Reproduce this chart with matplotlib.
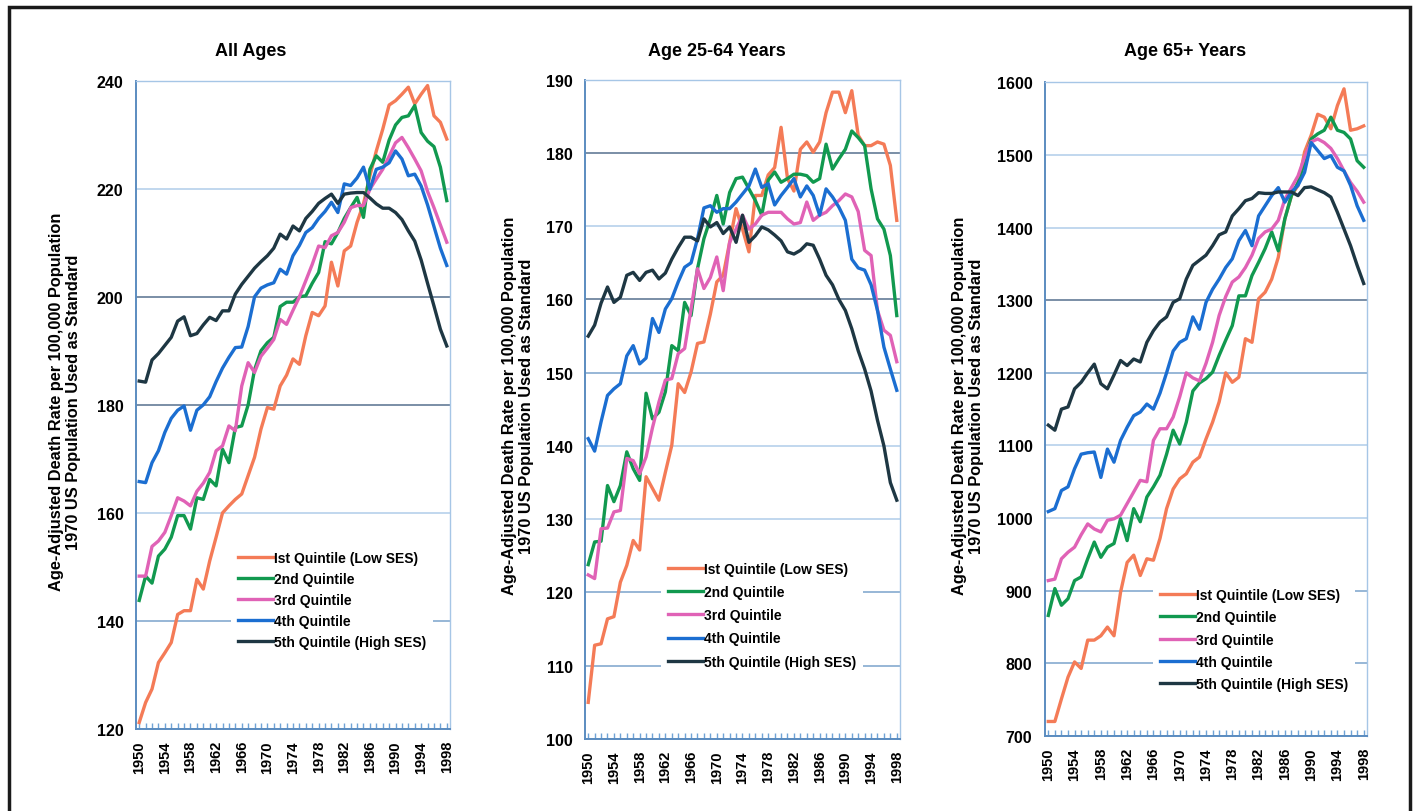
import matplotlib.pyplot as plt
from matplotlib.patches import Rectangle

plt.rcParams['font.family'] = ['Liberation Sans', 'DejaVu Sans']
plt.rcParams['font.weight'] = 'bold'

# data: 1950-1998, age-adjusted death rates by SES quintile
years = list(range(1950, 1999))
x_labels = list(range(1950, 1999, 4))
series_names = ['Ist Quintile (Low SES)', '2nd Quintile', '3rd Quintile',
                '4th Quintile', '5th Quintile (High SES)']
titles = ['All Ages', 'Age 25-64 Years', 'Age 65+ Years']
ylabel = 'Age-Adjusted Death Rate per 100,000 Population\n1970 US Population Used as Standard'

all_q1 = [121.2, 124.9, 127.4, 132.3, 134.1, 136.0, 141.2, 141.9, 141.9, 147.7,
          145.9, 151.1, 155.5, 160.0, 161.3, 162.5, 163.5, 166.9, 170.3, 175.5,
          179.5, 179.2, 183.5, 185.5, 188.5, 187.5, 192.8, 197.1, 196.5, 198.3,
          206.4, 202.0, 208.5, 209.4, 213.8, 217.2, 222.4, 227.0, 231.0, 235.5,
          236.3, 237.5, 238.8, 235.7, 237.5, 239.1, 233.5, 232.3, 229.2]
all_q2 = [143.8, 148.3, 147.0, 152.0, 153.3, 155.5, 159.5, 159.5, 157.0, 162.8,
          162.5, 166.2, 165.0, 171.8, 169.3, 175.8, 176.1, 180.0, 186.5, 190.0,
          191.5, 192.5, 198.2, 199.0, 199.0, 200.0, 200.2, 202.5, 204.5, 210.2,
          209.8, 211.9, 214.5, 216.5, 218.4, 214.7, 223.6, 226.1, 224.9, 229.0,
          231.8, 233.2, 233.5, 235.4, 230.4, 228.8, 227.8, 224.0, 217.8]
all_q3 = [148.3, 148.3, 153.8, 154.8, 156.4, 159.5, 162.8, 162.2, 161.3, 164.0,
          165.5, 167.5, 171.5, 172.4, 176.1, 175.2, 183.5, 187.8, 186.0, 189.0,
          190.5, 192.1, 195.8, 194.9, 197.5, 200.0, 203.0, 206.0, 209.4, 209.1,
          211.3, 211.9, 213.8, 216.5, 216.9, 216.9, 219.9, 221.8, 223.6, 226.0,
          228.5, 229.5, 227.6, 225.5, 223.3, 219.5, 216.5, 213.3, 210.1]
all_q4 = [165.8, 165.6, 169.3, 171.5, 174.9, 177.5, 179.0, 179.8, 175.3, 179.0,
          180.0, 181.5, 184.3, 186.8, 188.8, 190.6, 190.7, 194.5, 200.0, 201.6,
          202.2, 202.6, 205.1, 204.2, 207.6, 209.5, 211.9, 212.8, 214.5, 215.8,
          217.5, 215.6, 220.9, 220.6, 222.0, 224.0, 219.9, 223.6, 224.0, 224.8,
          227.0, 225.5, 222.4, 222.7, 220.5, 217.0, 213.0, 209.0, 205.8]
all_q5 = [184.4, 184.2, 188.3, 189.5, 191.0, 192.5, 195.5, 196.3, 192.8, 193.2,
          194.8, 196.2, 195.6, 197.4, 197.4, 200.5, 202.3, 203.8, 205.3, 206.5,
          207.6, 209.0, 211.6, 210.7, 213.1, 212.2, 214.5, 215.8, 217.3, 218.2,
          219.0, 217.3, 219.0, 219.2, 219.3, 219.3, 218.3, 217.2, 216.4, 216.4,
          215.6, 214.3, 212.2, 210.3, 206.8, 202.5, 198.3, 194.0, 190.9]

mid_q1 = [105.0, 112.8, 113.0, 116.4, 116.7, 121.4, 123.7, 127.1, 125.8, 135.8,
          134.2, 132.6, 136.4, 140.1, 148.5, 147.3, 150.1, 154.0, 154.2, 158.0,
          162.4, 163.3, 167.8, 172.4, 169.6, 166.5, 174.2, 174.2, 177.0, 178.0,
          183.5, 176.5, 174.8, 180.5, 181.5, 180.1, 181.5, 185.5, 188.3, 188.3,
          185.5, 188.5, 182.4, 181.0, 181.0, 181.5, 181.2, 178.3, 170.8]
mid_q2 = [123.8, 126.9, 127.0, 134.6, 132.4, 134.6, 139.2, 136.9, 135.3, 147.2,
          143.7, 144.6, 147.4, 153.7, 153.0, 159.6, 157.8, 164.2, 168.3, 171.0,
          174.2, 170.3, 174.6, 176.5, 176.7, 175.1, 173.5, 171.5, 176.3, 177.4,
          176.0, 176.5, 177.1, 177.1, 176.9, 176.0, 176.5, 181.2, 177.8, 179.2,
          180.5, 183.0, 182.1, 181.0, 175.1, 171.0, 169.6, 166.0, 157.8]
mid_q3 = [122.4, 121.9, 128.7, 128.8, 131.0, 131.2, 138.3, 138.0, 136.2, 138.5,
          142.5, 146.0, 149.0, 149.2, 152.6, 153.3, 158.7, 164.2, 161.5, 163.0,
          165.8, 161.2, 167.8, 169.6, 171.5, 169.6, 170.3, 171.5, 171.9, 171.9,
          171.9, 171.0, 170.3, 170.5, 173.3, 170.8, 171.5, 171.9, 172.8, 173.5,
          174.4, 174.0, 172.0, 166.7, 166.0, 158.5, 155.8, 155.1, 151.5]
mid_q4 = [141.0, 139.3, 143.3, 146.9, 147.8, 148.5, 152.3, 153.7, 151.2, 152.0,
          157.4, 155.5, 158.7, 160.1, 162.4, 164.4, 165.0, 168.3, 172.5, 172.8,
          171.9, 172.4, 172.4, 173.3, 174.4, 175.5, 177.8, 175.3, 175.8, 172.9,
          174.2, 175.3, 176.5, 174.0, 175.5, 174.2, 171.5, 175.1, 174.0, 172.6,
          170.8, 165.5, 164.3, 164.0, 162.0, 158.5, 153.5, 150.5, 147.6]
mid_q5 = [155.0, 156.5, 159.5, 161.7, 159.6, 160.3, 163.3, 163.7, 162.6, 163.7,
          164.0, 162.8, 163.6, 165.5, 167.1, 168.5, 168.5, 168.0, 171.0, 169.9,
          170.5, 169.0, 169.9, 167.8, 171.5, 167.8, 168.7, 169.9, 169.5, 168.8,
          168.0, 166.5, 166.2, 166.7, 167.6, 167.4, 165.5, 163.3, 162.0, 160.0,
          158.5, 156.0, 153.0, 150.5, 147.5, 143.5, 140.0, 135.0, 132.6]

old_q1 = [720, 720, 751, 781, 802, 793, 832, 832, 838, 850,
          838, 898, 939, 949, 921, 944, 942, 972, 1013, 1040,
          1054, 1061, 1077, 1084, 1109, 1132, 1160, 1200, 1187, 1194,
          1247, 1242, 1302, 1311, 1329, 1359, 1412, 1444, 1458, 1504,
          1527, 1556, 1552, 1536, 1568, 1591, 1534, 1536, 1540]
old_q2 = [866, 903, 880, 889, 914, 919, 944, 967, 946, 960,
          965, 999, 969, 1013, 995, 1029, 1043, 1059, 1088, 1121,
          1102, 1132, 1175, 1186, 1192, 1201, 1224, 1245, 1265, 1306,
          1306, 1334, 1352, 1371, 1394, 1368, 1412, 1444, 1462, 1490,
          1522, 1529, 1534, 1552, 1534, 1531, 1522, 1492, 1483]
old_q3 = [914, 916, 944, 953, 960, 977, 992, 985, 981, 997,
          999, 1004, 1020, 1036, 1052, 1050, 1107, 1123, 1123, 1139,
          1167, 1200, 1193, 1189, 1213, 1242, 1279, 1305, 1325, 1332,
          1345, 1362, 1385, 1394, 1398, 1410, 1439, 1455, 1471, 1497,
          1518, 1522, 1517, 1509, 1495, 1478, 1462, 1450, 1435]
old_q4 = [1009, 1013, 1038, 1043, 1068, 1088, 1090, 1091, 1056, 1095,
          1077, 1107, 1125, 1141, 1146, 1157, 1150, 1172, 1200, 1230,
          1242, 1247, 1277, 1260, 1297, 1315, 1329, 1345, 1357, 1382,
          1396, 1375, 1416, 1430, 1444, 1455, 1435, 1449, 1458, 1476,
          1517, 1506, 1495, 1499, 1483, 1478, 1458, 1430, 1410]
old_q5 = [1128, 1121, 1150, 1153, 1178, 1187, 1200, 1212, 1185, 1178,
          1197, 1217, 1210, 1219, 1215, 1242, 1258, 1270, 1277, 1297,
          1302, 1329, 1348, 1355, 1362, 1375, 1390, 1394, 1416, 1426,
          1437, 1440, 1448, 1447, 1447, 1449, 1449, 1449, 1444, 1455,
          1456, 1452, 1448, 1442, 1421, 1398, 1375, 1348, 1323]

panel_data = [[all_q1, all_q2, all_q3, all_q4, all_q5],
              [mid_q1, mid_q2, mid_q3, mid_q4, mid_q5],
              [old_q1, old_q2, old_q3, old_q4, old_q5]]
y_ranges = [(120, 240, 20), (100, 190, 10), (700, 1600, 100)]

# styling / layout (pixels of a 1416x812 canvas)
W, H = 1416, 812
colors = ['#F47B57', '#11994F', '#E062B6', '#1B6ED1', '#1E3743']
axes_px = [(136, 450, 81.7, 730), (585, 900, 80.7, 740), (1045, 1367, 83.3, 737)]
title_px = [251, 717, 1185]
ylabel_px = [(65, 402), (518, 406), (968, 406)]
legend_px = [(231, 545), (661, 556), (1153, 582)]
legend_gap = [0.5, 0.66, 0.6]
DARK, MID, LIGHT = '#56708e', '#7aa3cc', '#b0cde9'
grid_colors = [
    [MID, MID, LIGHT, DARK, DARK, LIGHT, LIGHT],
    [MID, MID, MID, LIGHT, LIGHT, MID, DARK, LIGHT, DARK, LIGHT],
    [MID, MID, MID, LIGHT, LIGHT, MID, DARK, LIGHT, LIGHT, LIGHT],
]

fig = plt.figure(figsize=(W / 100, H / 100), dpi=100)

for i in range(3):
    l, r, t, b = axes_px[i]
    ax = fig.add_axes([l / W, 1 - b / H, (r - l) / W, (b - t) / H])
    for vals, name, c in zip(panel_data[i], series_names, colors):
        ax.plot(years, vals, color=c, lw=2.4, label=name, zorder=3)

    lo, hi, step = y_ranges[i]
    ax.set_ylim(lo, hi)
    ax.set_yticks(range(lo, hi + 1, step))
    ax.set_xlim(1949.5, 1998.5)
    ax.set_xticks(x_labels)
    ax.set_xticks(years, minor=True)
    ax.tick_params(axis='x', which='both', direction='in', length=4,
                   color='#6fa3d6', width=1, labelrotation=90, labelsize=10.5, pad=8)
    ax.tick_params(axis='y', length=0, pad=9, labelsize=11.5)

    ax.grid(axis='y', lw=1.1, zorder=1)
    for gl, gc in zip(ax.get_ygridlines(), grid_colors[i]):
        gl.set_color(gc)

    for side in ['left', 'bottom']:
        ax.spines[side].set_color('#5b8cc0')
        ax.spines[side].set_linewidth(1.4)
    for side in ['top', 'right']:
        ax.spines[side].set_color('#a6c6e6')
        ax.spines[side].set_linewidth(1.0)

    lx, ly = legend_px[i]
    ax.legend(loc='upper left',
              bbox_to_anchor=((lx - l) / (r - l), (b - ly) / (b - t)),
              fontsize=10, handlelength=2.5, handletextpad=0.1,
              labelspacing=legend_gap[i], borderpad=0.5, borderaxespad=0,
              frameon=True, fancybox=False, framealpha=1,
              facecolor='white', edgecolor='none')

    fig.text(title_px[i] / W, 1 - 51 / H, titles[i], ha='center', va='center',
             fontsize=13, fontweight='bold')
    yx, yy = ylabel_px[i]
    fig.text(yx / W, 1 - yy / H, ylabel, rotation=90, ha='center', va='center',
             multialignment='center', fontsize=11.8, linespacing=1.15)

# outer frame around the whole figure
fig.patches.append(Rectangle((9 / W, -0.05), 1401 / W, 1.05 - 8 / H,
                             transform=fig.transFigure, fill=False,
                             lw=2.5, ec='#1a1a1a'))

fig.savefig('out.png', dpi=100)
